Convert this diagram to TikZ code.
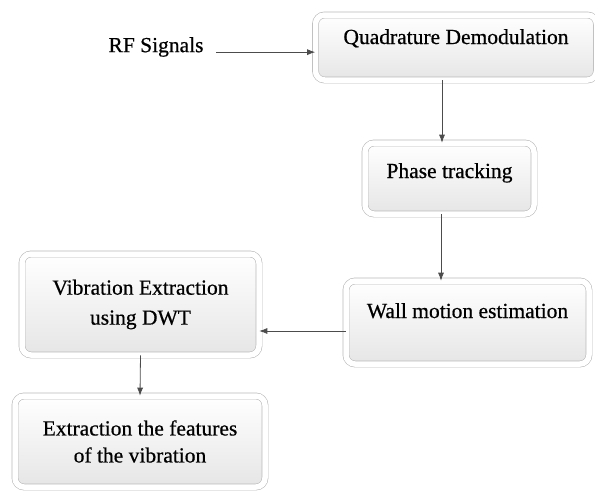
\documentclass[tikz,border=0pt]{standalone}
\usepackage{fontspec}
\setmainfont{Liberation Serif}[FakeBold=0.6]
\usetikzlibrary{shadows,arrows.meta}

\tikzset{
	blk/.style={rectangle, rounded corners=9pt, draw=gray!55, line width=0.6pt,
		double=white, double distance=5.5pt, top color=white, bottom color=gray!20,
		drop shadow={shadow xshift=1.5pt, shadow yshift=-2.5pt, opacity=0.3},
		align=center, font=\fontsize{21.5}{30}\selectfont},
	flow/.style={draw=gray!60!black, line width=0.8pt, -{Latex[length=8pt,width=6pt]}}
}

\begin{document}
\begin{tikzpicture}[x=1pt,y=-1pt]
	\useasboundingbox (0,0) rectangle (595,491);
	\node[font=\fontsize{21.5}{30}\selectfont] (rf) at (156,47) {RF Signals};
	\node[blk, minimum width=281pt, minimum height=65pt, text height=13pt, text depth=20pt] (quad) at (456,47.5) {Quadrature Demodulation};
	\node[blk, minimum width=169pt, minimum height=71pt, text height=13pt, text depth=14pt] (phase) at (449.5,178.5) {Phase tracking};
	\node[blk, minimum width=243pt, minimum height=83pt, text height=13pt, text depth=22pt] (wall) at (467.5,322.5) {Wall motion estimation};
	\node[blk, minimum width=237pt, minimum height=101pt] (vib) at (140.5,304.5) {Vibration Extraction\\using DWT};
	\node[blk, minimum width=250pt, minimum height=91pt, font=\fontsize{21.5}{27}\selectfont] (feat) at (140,441.5) {Extraction the features\\of the vibration};

	\draw[flow] ([xshift=9pt]rf.base east) -- (rf.base east -| quad.west);
	\draw[flow] ([xshift=-7.5pt]phase.north |- quad.south) -- ([xshift=-7.5pt]phase.north);
	\draw[flow] ([xshift=-8.5pt]phase.south) -- ([xshift=-8.5pt]phase.south |- wall.north);
	\draw[flow] ([yshift=-8.5pt]wall.west) -- ([yshift=-8.5pt]wall.west -| vib.east);
	\draw[flow] (vib.south) -- (feat.north);
\end{tikzpicture}
\end{document}
